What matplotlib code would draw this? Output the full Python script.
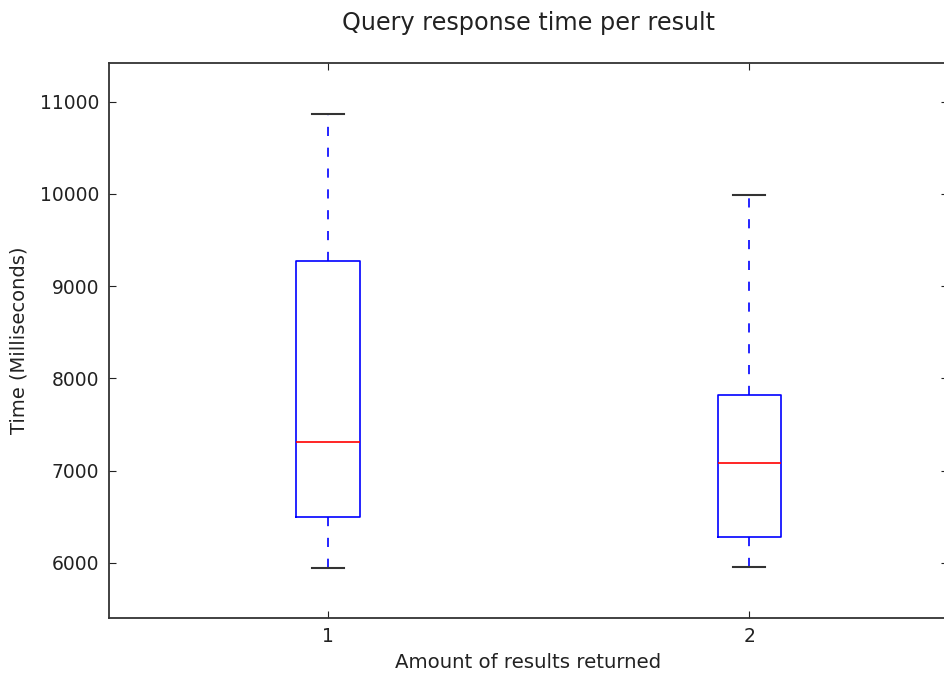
import matplotlib
matplotlib.use("Agg")
import matplotlib.pyplot as plt

categories = ["1", "2"]
whislo = [5949, 5960]
q1 = [6498, 6285]
med = [7308, 7087]
q3 = [9272, 7820]
whishi = [10872, 9987]

stats = []
for i, c in enumerate(categories):
    stats.append(dict(label=c, whislo=whislo[i], q1=q1[i], med=med[i],
                      q3=q3[i], whishi=whishi[i], fliers=[]))

fig = plt.figure(figsize=(9.44, 6.73), dpi=100)
ax = fig.add_axes([109 / 944, 1 - 617.7 / 673, (948 - 109) / 944, (617.7 - 63) / 673])

ax.bxp(stats, positions=[1, 2], widths=0.15, showfliers=False,
       boxprops=dict(color="blue", linewidth=1.2),
       whiskerprops=dict(color="blue", linestyle="--", linewidth=1.2, dashes=(5.5, 7)),
       capprops=dict(color="#333333", linewidth=1.5),
       medianprops=dict(color="red", linewidth=1.2))

ax.set_xlim(0.48, 2.472)
ax.set_ylim(5407, 11420)
ax.set_yticks([6000, 7000, 8000, 9000, 10000, 11000])
ax.tick_params(direction="in", length=5, top=True, right=True, labelsize=13.5,
               pad=7, colors="#222222")
for s in ax.spines.values():
    s.set_linewidth(1.3)
    s.set_color("#333333")

ax.set_title("Query response time per result", fontsize=17.2, pad=24, color="#222222")
ax.set_xlabel("Amount of results returned", fontsize=14.2, labelpad=5, color="#222222")
ax.set_ylabel("Time (Milliseconds)", fontsize=14, labelpad=8, color="#222222")

fig.savefig("out.png", dpi=100)
